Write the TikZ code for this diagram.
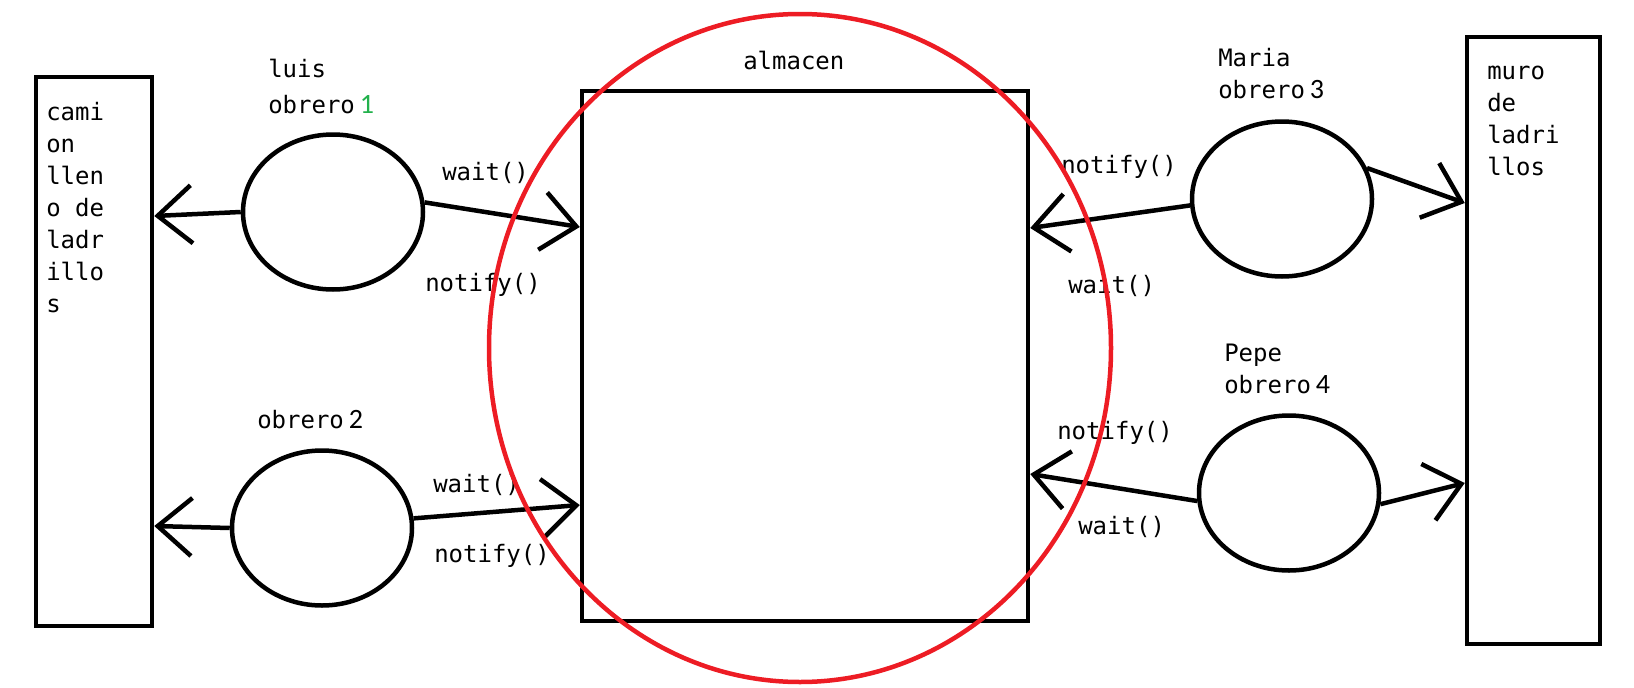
\documentclass[tikz,border=0pt]{standalone}
\usepackage{fontspec}
\setmonofont{DejaVu Sans Mono}
\newfontfamily\cifra{Carlito}
\usetikzlibrary{arrows.meta, shapes.geometric}
\definecolor{verde}{HTML}{22B14C}
\definecolor{rojo}{HTML}{ED1C24}
\newcommand{\num}[1]{\kern5pt{\cifra\fontsize{28}{32}\selectfont #1}}

\begin{document}
\begin{tikzpicture}[x=1pt, y=-1pt, line width=4.5pt,
	caja/.style={draw, rectangle, inner sep=0pt},
	obrero/.style={draw, ellipse, minimum width=180pt, minimum height=155pt, inner sep=0pt},
	texto/.style={font=\ttfamily\fontsize{24}{32}\selectfont, inner sep=0pt, align=left, anchor=base west},
	flecha/.style={-{Straight Barb[length=34pt, width=58pt]}}]
	\useasboundingbox (0,0) rectangle (1634,688);
	\node[caja, minimum width=116pt, minimum height=549pt] (camion) at (94,351.5) {};
	\node[caja, minimum width=446pt, minimum height=530pt] (almacen) at (805,356) {};
	\node[caja, minimum width=133pt, minimum height=607pt] (muro) at (1533.5,340.5) {};
	\node[obrero] (obrero1) at (333,212) {};
	\node[obrero] (obrero2) at (322,528) {};
	\node[obrero] (obrero3) at (1282,199) {};
	\node[obrero] (obrero4) at (1289,493) {};
	\node[texto] (camiontxt) at (44,312) {cami\\on\\llen\\o de\\ladr\\illo\\s};
	\node[texto] (murotxt) at (1485,175) {muro\\de\\ladri\\llos};
	\node[texto] (almacentxt) at (741,69) {almacen};
	\node[texto] (luis) at (266,113) {luis\\[4pt]obrero\num{\color{verde}1}};
	\node[texto] (lbl2) at (255,428) {obrero\num{2}};
	\node[texto] (maria) at (1216,98) {Maria\\obrero\num{3}};
	\node[texto] (pepe) at (1222,393) {Pepe\\obrero\num{4}};
	\node[texto] (wait1) at (440,180) {wait()};
	\node[texto] (notify1) at (423,291) {notify()};
	\node[texto] (wait2) at (431,492) {wait()};
	\node[texto] (notify2) at (432,562) {notify()};
	\node[texto] (notify3) at (1059,173) {notify()};
	\node[texto] (wait3) at (1066,293) {wait()};
	\node[texto] (notify4) at (1055,439) {notify()};
	\node[texto] (wait4) at (1076,534) {wait()};
	\draw
	(obrero1.west) edge[flecha] (camion.east |- 0,216)
	(obrero1.6) edge[flecha] (almacen.west |- 0,227)
	(obrero2.west) edge[flecha] (camion.east |- 0,526)
	(obrero2.6) edge[flecha] (almacen.west |- 0,505)
	(obrero3.184) edge[flecha] (almacen.east |- 0,228)
	(obrero3.20) edge[flecha] (muro.west |- 0,203)
	(obrero4.185) edge[flecha] (almacen.east |- 0,474)
	(obrero4.353) edge[flecha] (muro.west |- 0,483)
	;
	\node[draw=rojo, ellipse, minimum width=622pt, minimum height=668pt, inner sep=0pt] (zona) at (800,348) {};
\end{tikzpicture}
\end{document}
